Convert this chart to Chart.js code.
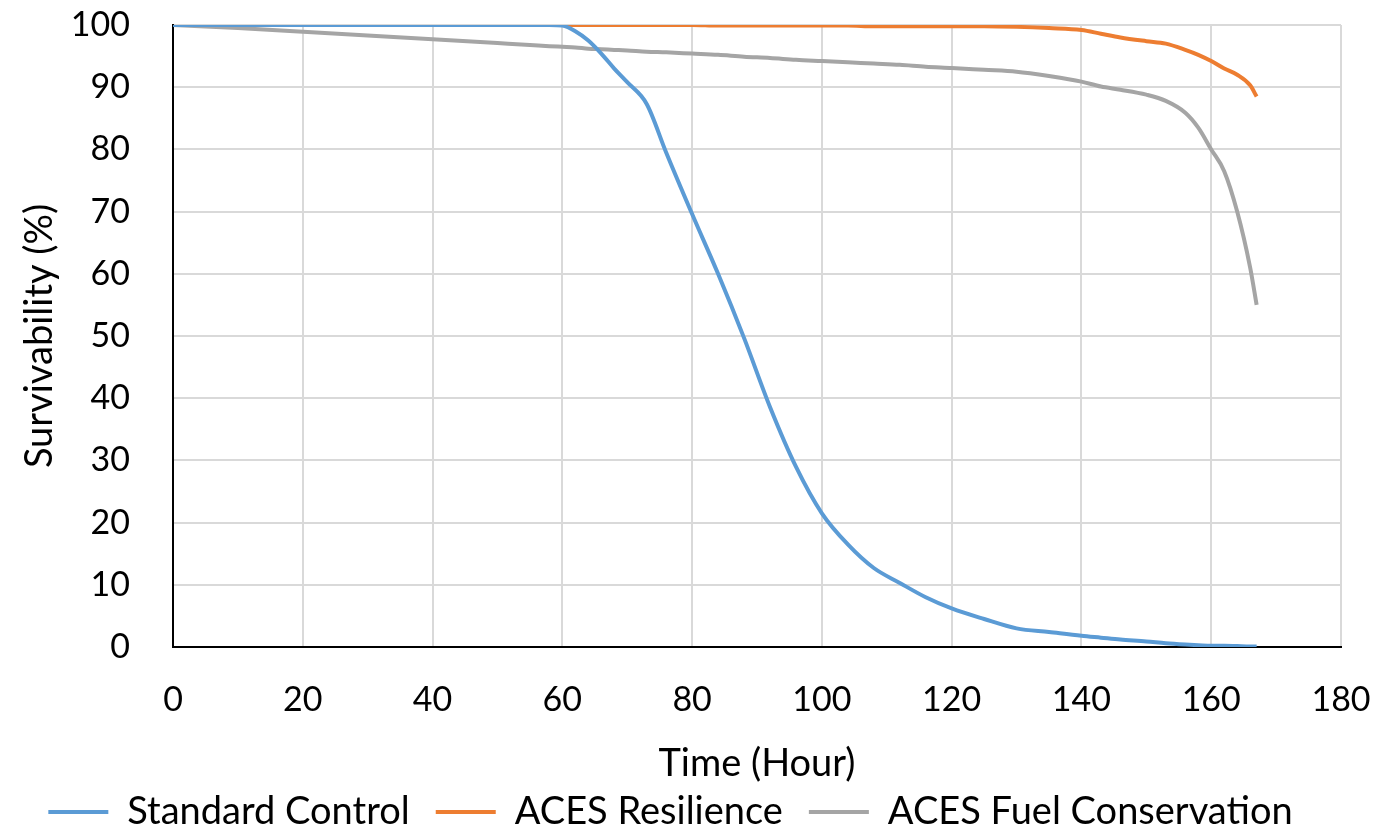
<!DOCTYPE html>
<html>
<head>
<meta charset="utf-8">
<script src="https://cdn.jsdelivr.net/npm/chart.js@4/dist/chart.umd.min.js"></script>
<style>
  html, body { margin: 0; padding: 0; background: #fff; }
  #wrap { width: 1379px; height: 831px; }
</style>
</head>
<body>
<div id="wrap"><canvas id="myChart" width="1379" height="831"></canvas></div>
<script>
// hours shared by all three series
const hours = [0, 10, 20, 30, 40, 50, 55, 58, 60, 62, 64, 66, 68, 70, 73, 76, 80, 84, 88, 92, 96, 100, 104, 108, 112, 116, 120, 125, 130, 135, 140, 143, 146, 150, 153, 156, 158, 160, 162, 164, 166, 167];

const standardControl = [100, 100, 100, 100, 100, 100, 100, 100, 99.9, 99, 97.5, 95.4, 93, 90.8, 87.3, 79.5, 69.6, 60, 49.7, 38.6, 29, 21.5, 16.5, 12.7, 10.3, 8, 6.2, 4.5, 3, 2.4, 1.8, 1.5, 1.2, 0.9, 0.6, 0.4, 0.3, 0.2, 0.2, 0.15, 0.1, 0.1];
const acesResilience = [100, 100, 100, 100, 100, 100, 100, 100, 100, 100, 100, 100, 100, 100, 100, 100, 100, 99.9, 99.9, 99.9, 99.9, 99.9, 99.9, 99.8, 99.8, 99.8, 99.8, 99.8, 99.7, 99.5, 99.2, 98.6, 98, 97.4, 97, 96, 95.2, 94.2, 93, 92, 90.3, 88.5];
const acesFuelConservation = [100, 99.5, 98.9, 98.3, 97.7, 97.1, 96.8, 96.6, 96.5, 96.4, 96.2, 96.1, 96, 95.9, 95.7, 95.6, 95.4, 95.2, 94.9, 94.7, 94.4, 94.2, 94, 93.8, 93.6, 93.3, 93.1, 92.8, 92.5, 91.8, 90.9, 90.1, 89.6, 88.8, 87.8, 85.9, 83.5, 80, 76.5, 70, 61, 55];

const seriesNames = ['Standard Control', 'ACES Resilience', 'ACES Fuel Conservation'];
const seriesColors = ['#5b9bd5', '#ed7d31', '#a5a5a5'];
const seriesValues = [standardControl, acesResilience, acesFuelConservation];

const FONT = 'Lato, "Open Sans", sans-serif';

function toPoints(vals) {
  return hours.map((h, i) => ({ x: h, y: vals[i] }));
}

const datasets = seriesNames.map((name, i) => ({
  label: name,
  data: toPoints(seriesValues[i]),
  borderColor: seriesColors[i],
  backgroundColor: seriesColors[i],
  borderWidth: 4,
  pointRadius: 0,
  cubicInterpolationMode: 'monotone',
  fill: false
}));

// keep the legend box short so it sits close under the axis title
const legendHeight = {
  id: 'legendHeight',
  beforeLayout(chart) {
    const lg = chart.legend;
    if (lg && !lg._fixed) {
      const fit = lg.fit;
      lg.fit = function () { fit.call(this); this.height = 64; };
      lg._fixed = true;
    }
  }
};

function noEdgePadding(scale) {
  scale.paddingTop = 0;
  scale.paddingBottom = 0;
  scale.paddingLeft = 0;
  scale.paddingRight = 0;
}

const ctx = document.getElementById('myChart');

const myChart = new Chart(ctx, {
  type: 'line',
  data: { datasets: datasets },
  plugins: [legendHeight],
  options: {
    responsive: false,
    animation: false,
    layout: { padding: { left: 0, right: 38, top: 25, bottom: 0 } },
    plugins: {
      tooltip: { enabled: false },
      legend: {
        position: 'bottom',
        labels: {
          usePointStyle: true,
          pointStyle: 'line',
          pointStyleWidth: 60,
          color: '#000',
          padding: 26,
          font: { family: FONT, size: 38 }
        }
      }
    },
    scales: {
      x: {
        type: 'linear',
        min: 0,
        max: 180,
        afterFit: (scale) => { scale.height = 120; noEdgePadding(scale); },
        ticks: {
          stepSize: 20,
          color: '#000',
          padding: 33,
          font: { family: FONT, size: 34 }
        },
        grid: { color: '#d9d9d9', lineWidth: 2, drawTicks: false },
        border: { color: '#000', width: 2 },
        title: {
          display: true,
          text: 'Time (Hour)',
          color: '#000',
          padding: { top: 0, bottom: -20 },
          font: { family: FONT, size: 38 }
        }
      },
      y: {
        min: 0,
        max: 100,
        afterFit: (scale) => { scale.width = 173; noEdgePadding(scale); },
        ticks: {
          stepSize: 10,
          color: '#000',
          padding: 43,
          font: { family: FONT, size: 34 }
        },
        grid: { color: '#d9d9d9', lineWidth: 2, drawTicks: false },
        border: { color: '#000', width: 2 },
        title: {
          display: true,
          text: 'Survivability (%)',
          color: '#000',
          padding: { top: 17, bottom: 0 },
          font: { family: FONT, size: 38 }
        }
      }
    }
  }
});
</script>
</body>
</html>
